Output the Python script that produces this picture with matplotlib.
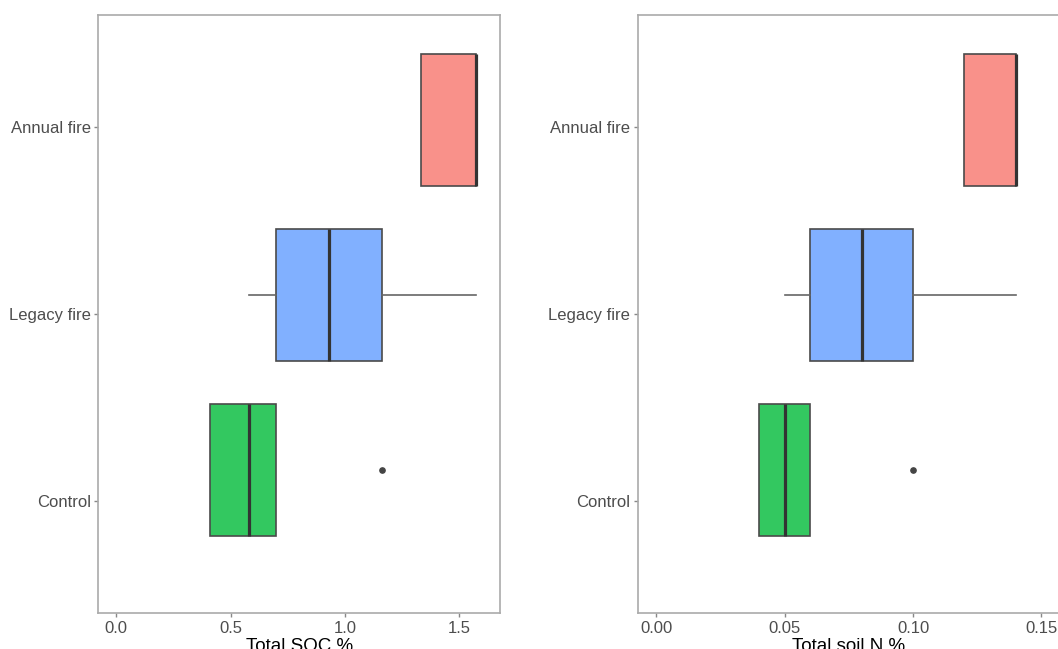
import matplotlib
matplotlib.use("Agg")
import matplotlib.pyplot as plt

plt.rcParams['font.family'] = ['Liberation Sans', 'DejaVu Sans']

# ---- data (top to bottom) ----
groups = ["Annual fire", "Legacy fire", "Control"]
colors = ["#F8766D", "#619CFF", "#00BA38"]

# Total SOC %
soc_min = [1.33, 0.58, 0.41]
soc_q1 = [1.33, 0.70, 0.41]
soc_med = [1.57, 0.93, 0.58]
soc_q3 = [1.57, 1.16, 0.70]
soc_max = [1.57, 1.57, 0.70]
soc_out = [[], [], [1.16]]

# Total soil N %
n_min = [0.12, 0.05, 0.04]
n_q1 = [0.12, 0.06, 0.04]
n_med = [0.14, 0.08, 0.05]
n_q3 = [0.14, 0.10, 0.06]
n_max = [0.14, 0.14, 0.06]
n_out = [[], [], [0.10]]

soc_ticks = [0.0, 0.5, 1.0, 1.5]
soc_ticklabels = ["0.0", "0.5", "1.0", "1.5"]
n_ticks = [0.00, 0.05, 0.10, 0.15]
n_ticklabels = ["0.00", "0.05", "0.10", "0.15"]

W, H = 1058, 649
fig = plt.figure(figsize=(W / 100, H / 100), dpi=100)

positions = [1, 2, 3]
ytick_pos = [0.4 + (p - 0.4) * 187 / 175 for p in positions]


def panel(ax, mins, q1s, meds, q3s, maxs, outs, xlim, ticks, ticklabels, xlabel):
    stats = []
    for i in range(len(groups)):
        stats.append(dict(whislo=mins[i], q1=q1s[i], med=meds[i], q3=q3s[i],
                          whishi=maxs[i], fliers=outs[i], label=groups[i]))
    b = ax.bxp(stats, positions=positions, vert=False, widths=0.75,
               patch_artist=True, showcaps=False,
               boxprops=dict(edgecolor="#4a4a4a", linewidth=1.2),
               whiskerprops=dict(color="#666666", linewidth=1.2),
               medianprops=dict(color="#333333", linewidth=2.3),
               flierprops=dict(marker="o", markersize=3.8, markerfacecolor="#444444",
                               markeredgecolor="#444444"))
    for patch, c in zip(b["boxes"], colors):
        patch.set_facecolor(c)
        patch.set_alpha(None)
        r, g, bb = matplotlib.colors.to_rgb(c)
        patch.set_facecolor((0.8 * r + 0.2, 0.8 * g + 0.2, 0.8 * bb + 0.2))
    ax.set_ylim(0.4 + 598 / 175, 0.4)
    ax.set_xlim(*xlim)
    ax.set_yticks(ytick_pos)
    ax.set_yticklabels(groups)
    ax.set_xticks(ticks)
    ax.set_xticklabels(ticklabels)
    for s in ax.spines.values():
        s.set_color("#AAAAAA")
        s.set_linewidth(1.2)
    ax.tick_params(axis="both", colors="#888888", length=3, width=1.0,
                   labelsize=12, labelcolor="#4D4D4D", pad=2.5)
    ax.set_xlabel(xlabel, fontsize=13.5, color="black", labelpad=2)
    ax.set_facecolor("white")


bottom = (H - 613) / H
height = 598 / H

ax1 = fig.add_axes([98.3 / W, bottom, (500 - 98.3) / W, height])
x0, ppu = 116.0, 229.0
panel(ax1, soc_min, soc_q1, soc_med, soc_q3, soc_max, soc_out,
      ((98.3 - x0) / ppu, (500 - x0) / ppu), soc_ticks, soc_ticklabels, "Total SOC %")

ax2 = fig.add_axes([638 / W, bottom, (1060 - 638) / W, height])
x0n, ppun = 656.3, 2567.0
panel(ax2, n_min, n_q1, n_med, n_q3, n_max, n_out,
      ((638 - x0n) / ppun, (1060 - x0n) / ppun), n_ticks, n_ticklabels, "Total soil N %")

fig.savefig("out.png", dpi=100, facecolor="white")
